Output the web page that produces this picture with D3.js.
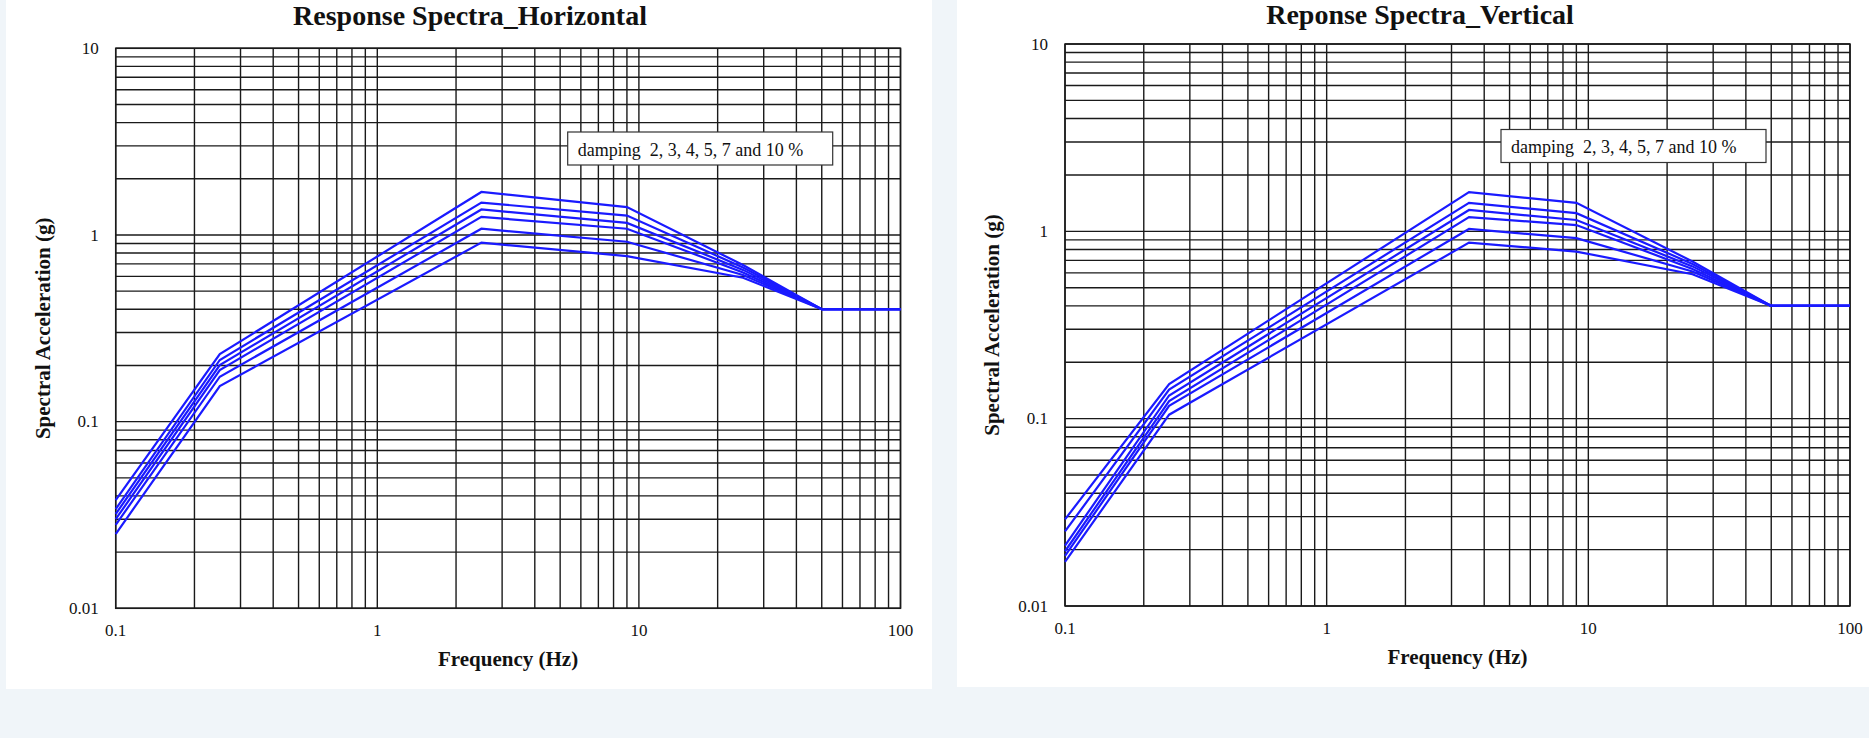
<html>
<head>
<script src="https://d3js.org/d3.v7.min.js"></script>
<style>
  body { margin: 0; background: #f0f5f9; }
  text { font-family: 'Liberation Serif', 'Times New Roman', serif; fill: #111; }
</style>
</head>
<body>
<svg id="vis" width="1869" height="738"></svg>
<script>
// ---- data ----
const damping = [2, 3, 4, 5, 7, 10];
const xTickLabels = [0.1, 1, 10, 100];
const yTickLabels = [0.01, 0.1, 1, 10];
const legendText = "damping  2, 3, 4, 5, 7 and 10 %";

// horizontal spectra: control frequencies, one row of Sa (g) per damping
const hFreq = [0.1, 0.25, 2.5, 9, 25, 50, 100];
const hSa = [
  [0.038, 0.230, 1.70, 1.41, 0.69, 0.4, 0.4],
  [0.034, 0.214, 1.49, 1.27, 0.67, 0.4, 0.4],
  [0.032, 0.201, 1.37, 1.16, 0.65, 0.4, 0.4],
  [0.030, 0.189, 1.25, 1.08, 0.63, 0.4, 0.4],
  [0.028, 0.174, 1.08, 0.92, 0.61, 0.4, 0.4],
  [0.025, 0.155, 0.91, 0.77, 0.59, 0.4, 0.4]
];

// vertical spectra
const vFreq = [0.1, 0.25, 3.5, 9, 25, 50, 100];
const vSa = [
  [0.029, 0.153, 1.62, 1.42, 0.69, 0.4, 0.4],
  [0.025, 0.143, 1.42, 1.25, 0.67, 0.4, 0.4],
  [0.021, 0.133, 1.30, 1.15, 0.65, 0.4, 0.4],
  [0.0196, 0.124, 1.19, 1.08, 0.63, 0.4, 0.4],
  [0.0185, 0.117, 1.03, 0.92, 0.61, 0.4, 0.4],
  [0.0172, 0.105, 0.87, 0.78, 0.59, 0.4, 0.4]
];

const svg = d3.select("#vis");

// white sheets behind each chart
svg.append("rect").attr("x", 6).attr("y", 0).attr("width", 926).attr("height", 689).style("fill", "white");
svg.append("rect").attr("x", 957).attr("y", 0).attr("width", 912).attr("height", 687).style("fill", "white");

function drawChart(o)
{
  const x = d3.scaleLog().domain([0.1, 100]).range([o.x0, o.x1]);
  const y = d3.scaleLog().domain([0.01, 10]).range([o.y1, o.y0]);
  const g = svg.append("g");

  // grid
  g.selectAll(".vg").data(x.ticks()).enter().append("line")
    .attr("x1", d => x(d)).attr("x2", d => x(d))
    .attr("y1", o.y0).attr("y2", o.y1)
    .style("stroke", "#1a1a1a").style("stroke-width", 1.4);

  g.selectAll(".hg").data(y.ticks()).enter().append("line")
    .attr("x1", o.x0).attr("x2", o.x1)
    .attr("y1", d => y(d)).attr("y2", d => y(d))
    .style("stroke", "#1a1a1a").style("stroke-width", 1.4);

  g.append("rect")
    .attr("x", o.x0).attr("y", o.y0)
    .attr("width", o.x1 - o.x0).attr("height", o.y1 - o.y0)
    .style("fill", "none").style("stroke", "#1a1a1a").style("stroke-width", 1.5);

  // tick labels
  g.selectAll(".xl").data(xTickLabels).enter().append("text")
    .attr("x", d => x(d)).attr("y", o.y1 + 27.5)
    .attr("text-anchor", "middle").style("font-size", "17px")
    .text(d => d);

  g.selectAll(".yl").data(yTickLabels).enter().append("text")
    .attr("x", o.x0 - 17).attr("y", d => y(d) + 5.7)
    .attr("text-anchor", "end").style("font-size", "17px")
    .text(d => d);

  // curves
  const line = d3.line().x(d => x(d[0])).y(d => y(d[1]));
  o.sa.forEach(row => {
    g.append("path")
      .attr("d", line(o.freq.map((f, i) => [f, row[i]])))
      .style("fill", "none").style("stroke", "#1a1aff")
      .style("stroke-width", 2.2).style("stroke-linejoin", "miter");
  });

  // legend box
  g.append("rect")
    .attr("x", o.x0 + o.lgX).attr("y", o.lgY)
    .attr("width", 265).attr("height", 33)
    .style("fill", "white").style("stroke", "#333").style("stroke-width", 1.2);
  g.append("text")
    .attr("x", o.x0 + o.lgX + 10).attr("y", o.lgY + 23.5)
    .style("font-size", "18px").style("white-space", "pre")
    .text(legendText);

  // titles
  g.append("text")
    .attr("x", o.titleX).attr("y", o.titleY)
    .attr("text-anchor", "middle")
    .style("font-size", "28px").style("font-weight", "bold")
    .text(o.title);

  g.append("text")
    .attr("x", (o.x0 + o.x1) / 2).attr("y", o.y1 + 57.5)
    .attr("text-anchor", "middle")
    .style("font-size", "21px").style("font-weight", "bold")
    .text("Frequency (Hz)");

  g.append("text")
    .attr("transform", `translate(${o.x0 - 66},${(o.y0 + o.y1) / 2}) rotate(-90)`)
    .attr("text-anchor", "middle")
    .style("font-size", "21px").style("font-weight", "bold")
    .text("Spectral Acceleration (g)");
}

drawChart({
  x0: 115.7, x1: 900.5, y0: 48.3, y1: 608.3,
  freq: hFreq, sa: hSa,
  lgX: 452, lgY: 132,
  title: "Response Spectra_Horizontal", titleX: 470, titleY: 24.5
});

drawChart({
  x0: 1065, x1: 1850, y0: 44, y1: 606,
  freq: vFreq, sa: vSa,
  lgX: 436, lgY: 129.5,
  title: "Reponse Spectra_Vertical", titleX: 1420, titleY: 23.5
});
</script>
</body>
</html>
